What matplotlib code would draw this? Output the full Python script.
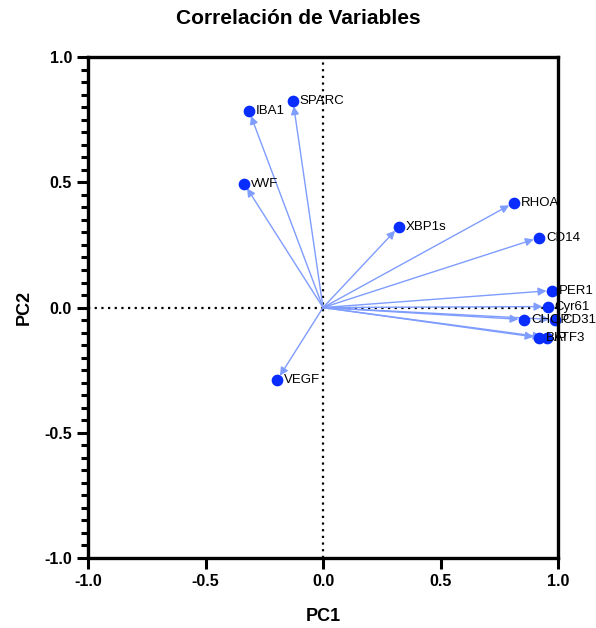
import matplotlib
matplotlib.use("Agg")
import matplotlib.pyplot as plt
from matplotlib.ticker import MultipleLocator

plt.rcParams['font.family'] = ['Liberation Sans', 'DejaVu Sans']
plt.rcParams['axes.unicode_minus'] = False

# loadings on the first two principal components
genes = ["IBA1", "SPARC", "vWF", "XBP1s", "RHOA", "CD14", "PER1", "Cyr61",
         "CHOP", "CD31", "BIP", "ATF3", "VEGF"]
pc1 = [-0.315, -0.128, -0.336, 0.323, 0.813, 0.919, 0.974, 0.957,
       0.855, 0.987, 0.919, 0.953, -0.196]
pc2 = [0.786, 0.826, 0.495, 0.323, 0.419, 0.279, 0.068, 0.004,
       -0.048, -0.048, -0.120, -0.120, -0.291]

fig = plt.figure(figsize=(5.96, 6.28), dpi=100)
ax = fig.add_axes([0.1477, 0.1115, 0.7886, 0.7975])

ax.axhline(0, color="black", linestyle=(0, (1, 2)), linewidth=1.6, zorder=1)
ax.axvline(0, color="black", linestyle=(0, (1, 2)), linewidth=1.6, zorder=1)

for g, x, y in zip(genes, pc1, pc2):
    ax.annotate("", xy=(x, y), xytext=(0, 0),
                arrowprops=dict(arrowstyle="-|>", color="#7f9cff", lw=1.0,
                                shrinkA=0, shrinkB=4, mutation_scale=12),
                zorder=2)
    ax.annotate(g, xy=(x, y), xytext=(5, 0), textcoords="offset points",
                va="center", ha="left", fontsize=9.5, zorder=4,
                annotation_clip=False)

ax.scatter(pc1, pc2, s=55, color="#0a2dff", zorder=3, clip_on=False)

ax.set_xlim(-1, 1)
ax.set_ylim(-1, 1)
ax.xaxis.set_major_locator(MultipleLocator(0.5))
ax.yaxis.set_major_locator(MultipleLocator(0.5))
ax.yaxis.set_minor_locator(MultipleLocator(0.05))
ax.tick_params(axis="both", which="major", length=8, width=2.2,
               labelsize=11.5, direction="out")
ax.tick_params(axis="y", which="minor", length=5, width=2.2, direction="out")
for lab in ax.get_xticklabels() + ax.get_yticklabels():
    lab.set_fontweight("bold")

for s in ax.spines.values():
    s.set_linewidth(2.4)
    s.set_zorder(5)

ax.set_xlabel("PC1", fontsize=13, fontweight="bold", labelpad=14)
ax.set_ylabel("PC2", fontsize=13, fontweight="bold", labelpad=8)
fig.suptitle("Correlación de Variables", fontsize=15, fontweight="bold", y=0.985)

fig.savefig("out.png", dpi=100)
